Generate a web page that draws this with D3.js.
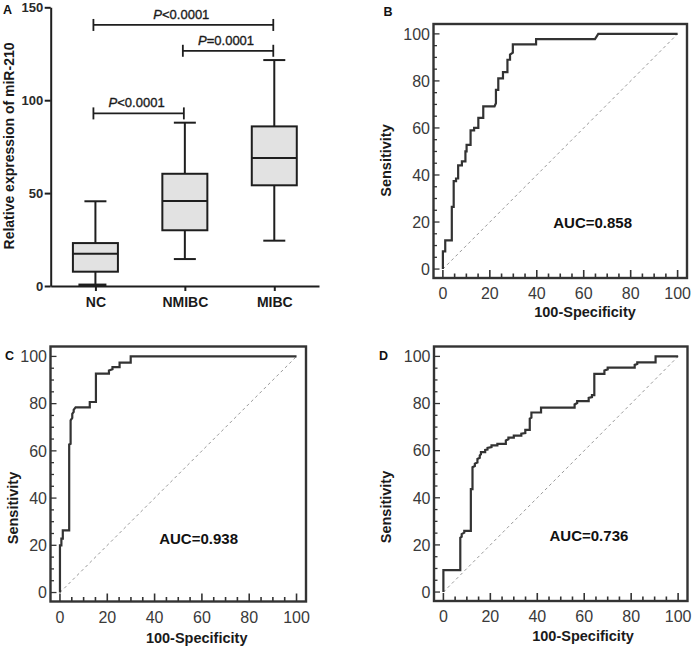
<!DOCTYPE html>
<html>
<head>
<meta charset="utf-8">
<script src="https://cdn.jsdelivr.net/npm/d3@7"></script>
<style>
  html, body { margin: 0; padding: 0; background: #fff; }
  svg { display: block; font-family: "Liberation Sans", Arial, Helvetica, sans-serif; }
</style>
</head>
<body>
<svg id="chart" width="694" height="647"></svg>
<script>
// ---------- Panel A data ----------
const groups = ["NC", "NMIBC", "MIBC"];
const whiskerLow  = [0.5, 14.5, 24.4];
const q1          = [7.7, 30.0, 54.2];
const median      = [17.4, 45.7, 68.9];
const q3          = [23.1, 60.4, 85.9];
const whiskerHigh = [45.6, 87.9, 121.6];
const yTicksA = [0, 50, 100, 150];
const sigFrom  = ["NC", "NMIBC", "NC"];
const sigTo    = ["MIBC", "MIBC", "NMIBC"];
const sigLevel = [140.5, 126.6, 92.9];
const sigText  = ["<0.0001", "=0.0001", "<0.0001"];

// ---------- ROC data (100-Specificity, Sensitivity) ----------
const rocB = [[0,0],[0,7.5],[1,7.5],[1,12.2],[3.8,12.2],[3.8,26.4],[4.6,26.4],[4.6,37.4],[5.6,37.4],[5.6,38.5],[6.5,38.5],[6.5,44.1],[8.1,44.1],[8.1,45.8],[9.6,45.8],[9.6,50],[10.1,50],[10.1,52.8],[11.8,52.8],[11.8,59],[13.3,59],[13.3,60],[15.1,60],[15.1,64.3],[17.2,64.3],[17.2,69.2],[22,69.2],[22.6,70.5],[22.6,76.2],[23.6,76.2],[23.6,81.1],[25.6,81.1],[25.6,83.7],[27.5,83.7],[27.5,89],[28.6,89],[28.6,91.2],[29.8,92],[29.8,95.5],[39.7,95.5],[39.7,97.8],[64.8,97.8],[66.2,100],[100,100]];
const rocC = [[0,0],[0,20],[0.6,20],[0.6,22.8],[1.2,22.8],[1.2,26.3],[3.9,26.3],[3.9,62.7],[4.5,63],[4.5,72.9],[5.2,74],[5.2,75.7],[5.8,76.5],[5.8,77.4],[6.6,78.4],[12.6,78.4],[12.6,80.7],[15.2,80.7],[15.2,92.7],[20.7,92.7],[20.7,94],[22.2,94.6],[22.2,95.5],[25.2,95.5],[25.2,97.4],[29.9,97.4],[29.9,100],[100,100]];
const rocD = [[0,0],[0,9.3],[7.2,9.3],[7.2,23],[7.8,23.5],[7.8,24.6],[8.9,25.2],[8.9,26],[11.7,26],[11.7,43.7],[12.4,43.7],[12.4,53],[13.4,53.5],[13.4,54.5],[14.5,55],[14.5,56.5],[15.5,57],[15.5,58],[16,58.5],[16,59.4],[17.8,59.4],[17.8,60.3],[18.8,60.5],[18.8,61.2],[20.5,61.5],[20.5,62.2],[23,62.2],[23,62.9],[26.6,62.9],[26.6,64.3],[27.7,64.8],[27.7,65.5],[30,65.5],[30,66.4],[33.2,66.4],[33.2,67.2],[34.9,67.5],[34.9,68.8],[36.8,68.8],[36.8,73.6],[37.5,74],[37.5,76.2],[41.6,76.2],[41.6,78.3],[55.9,78.3],[55.9,79.6],[57,80.2],[57,81],[61.9,81],[61.9,82.4],[63.3,82.7],[63.3,83.6],[64.3,83.6],[64.3,92.6],[68.6,92.6],[68.6,94],[70,94.5],[70,95.2],[81.5,95.2],[81.5,96.4],[82.6,96.8],[82.6,97.5],[90.4,97.5],[90.4,100],[100,100]];
const aucLabels = ["AUC=0.858", "AUC=0.938", "AUC=0.736"];
const aucPos = [[63.8, 17.4], [58.6, 20.7], [62, 21.5]];
const rocTicks = [0, 20, 40, 60, 80, 100];
const rocMinorTicks = d3.range(0, 101, 5);
const panelLetters = ["A", "B", "C", "D"];

const svg = d3.select("#chart");
const ink = "#1e1e1e";

// ================= Panel A =================
(function () {
  const g = svg.append("g");
  const y = d3.scaleLinear().domain([0, 150]).range([286, 7.3]);
  const x = d3.scalePoint().domain(groups).range([50.7, 319]).padding(0.5);
  const boxW = 45, capW = 22;

  const yAxis = g.append("g").attr("transform", "translate(50.7,0)")
    .call(d3.axisLeft(y).tickValues(yTicksA).tickSize(6).tickPadding(1.5).tickSizeOuter(0));
  yAxis.select(".domain").attr("stroke", ink).attr("stroke-width", 2);
  yAxis.selectAll(".tick line").attr("stroke", ink).attr("stroke-width", 2);
  yAxis.selectAll(".tick text").attr("font-size", 13).attr("font-weight", "bold")
    .attr("fill", "#2a2a2a").attr("font-family", "Liberation Sans, Arial, sans-serif");

  const xAxis = g.append("g").attr("transform", "translate(0,286)")
    .call(d3.axisBottom(x).tickSize(5).tickPadding(6).tickSizeOuter(0));
  xAxis.select(".domain").attr("stroke", ink).attr("stroke-width", 2);
  xAxis.selectAll(".tick line").attr("stroke", ink).attr("stroke-width", 2);
  xAxis.selectAll(".tick text").attr("font-size", 14).attr("font-weight", "bold")
    .attr("fill", "#1a1a1a").attr("font-family", "Liberation Sans, Arial, sans-serif");

  const idx = d3.range(groups.length);
  const bx = g.append("g");
  idx.forEach(i => {
    const cx = x(groups[i]);
    bx.append("line").attr("x1", cx).attr("x2", cx).attr("y1", y(whiskerHigh[i])).attr("y2", y(q3[i]))
      .attr("stroke", ink).attr("stroke-width", 2);
    bx.append("line").attr("x1", cx).attr("x2", cx).attr("y1", y(q1[i])).attr("y2", y(whiskerLow[i]))
      .attr("stroke", ink).attr("stroke-width", 2);
    bx.append("line").attr("x1", cx - capW / 2).attr("x2", cx + capW / 2).attr("y1", y(whiskerHigh[i])).attr("y2", y(whiskerHigh[i]))
      .attr("stroke", ink).attr("stroke-width", 2);
    bx.append("line").attr("x1", cx - capW / 2 - (i === 0 ? 6 : 0)).attr("x2", cx + capW / 2).attr("y1", y(whiskerLow[i])).attr("y2", y(whiskerLow[i]))
      .attr("stroke", ink).attr("stroke-width", i === 0 ? 3 : 2);
    bx.append("rect").attr("x", cx - boxW / 2).attr("width", boxW)
      .attr("y", y(q3[i])).attr("height", y(q1[i]) - y(q3[i]))
      .attr("fill", "#e2e2e2").attr("stroke", ink).attr("stroke-width", 2);
    bx.append("line").attr("x1", cx - boxW / 2).attr("x2", cx + boxW / 2).attr("y1", y(median[i])).attr("y2", y(median[i]))
      .attr("stroke", ink).attr("stroke-width", 2);
  });

  sigLevel.forEach((lv, i) => {
    const x1 = x(sigFrom[i]) - 2, x2 = x(sigTo[i]) - 1, yy = y(lv);
    g.append("line").attr("x1", x1).attr("x2", x2).attr("y1", yy).attr("y2", yy).attr("stroke", ink).attr("stroke-width", 1.8);
    [x1, x2].forEach(xx => g.append("line").attr("x1", xx).attr("x2", xx).attr("y1", yy - 6).attr("y2", yy + 6)
      .attr("stroke", ink).attr("stroke-width", 1.8));
    const t = g.append("text").attr("x", (x1 + x2) / 2 - 2).attr("y", yy - 6)
      .attr("text-anchor", "middle").attr("font-size", 13).attr("fill", "#1a1a1a")
      .attr("stroke", "#1a1a1a").attr("stroke-width", 0.35);
    t.append("tspan").attr("font-style", "italic").text("P");
    t.append("tspan").text(sigText[i]);
  });

  g.append("text").attr("transform", "translate(14,146) rotate(-90)")
    .attr("text-anchor", "middle").attr("font-size", 14).attr("font-weight", "bold").attr("fill", "#1a1a1a")
    .text("Relative expression of miR-210");
})();

// ================= ROC panels =================
const rocPanels = [
  { data: rocB, left: 433.5, top: 24, right: 687, bottom: 278, ytX: 391, ytY: 160.5, xtX: 585, xtY: 317 },
  { data: rocC, left: 50.5, top: 346.5, right: 306, bottom: 601.5, ytX: 18, ytY: 508, xtX: 196.7, xtY: 642.5 },
  { data: rocD, left: 434, top: 346.5, right: 687.5, bottom: 601, ytX: 391, ytY: 507, xtX: 583, xtY: 640.5 }
];

rocPanels.forEach((p, k) => {
  const g = svg.append("g");
  const x = d3.scaleLinear().domain([-4, 104]).range([p.left, p.right]);
  const y = d3.scaleLinear().domain([-3.8, 104.2]).range([p.bottom, p.top]);
  const frameCol = "#333";

  rocMinorTicks.forEach(v => {
    const major = rocTicks.includes(v);
    g.append("line").attr("x1", x(v)).attr("x2", x(v)).attr("y1", p.bottom).attr("y2", p.bottom - (major ? 8 : 4.5))
      .attr("stroke", frameCol).attr("stroke-width", 1.6);
    g.append("line").attr("y1", y(v)).attr("y2", y(v)).attr("x1", p.left).attr("x2", p.left + (major ? 6 : 3.5))
      .attr("stroke", frameCol).attr("stroke-width", 1.3);
  });

  rocTicks.forEach(v => {
    g.append("text").attr("x", x(v)).attr("y", p.bottom + 21).attr("text-anchor", "middle")
      .attr("font-size", 16).attr("fill", "#3a3a3a").text(v);
    g.append("text").attr("x", p.left - 3.5).attr("y", y(v)).attr("dy", "0.36em").attr("text-anchor", "end")
      .attr("font-size", 16).attr("fill", "#3a3a3a").text(v);
  });

  g.append("line").attr("x1", x(0)).attr("y1", y(0)).attr("x2", x(100)).attr("y2", y(100))
    .attr("stroke", "#999").attr("stroke-width", 1).attr("stroke-dasharray", "3,3");

  const line = d3.line().x(d => x(d[0])).y(d => y(d[1]));
  g.append("path").datum(p.data).attr("d", line).attr("fill", "none")
    .attr("stroke", "#333").attr("stroke-width", 2.2).attr("stroke-linejoin", "miter");

  g.append("rect").attr("x", p.left).attr("y", p.top).attr("width", p.right - p.left).attr("height", p.bottom - p.top)
    .attr("fill", "none").attr("stroke", frameCol).attr("stroke-width", 2.4);

  g.append("text").attr("x", x(aucPos[k][0])).attr("y", y(aucPos[k][1])).attr("text-anchor", "middle")
    .attr("font-size", 15).attr("font-weight", "bold").attr("fill", "#111").text(aucLabels[k]);

  g.append("text").attr("transform", `translate(${p.ytX},${p.ytY}) rotate(-90)`).attr("text-anchor", "middle")
    .attr("font-size", 14.5).attr("font-weight", "bold").attr("fill", "#1a1a1a").text("Sensitivity");
  g.append("text").attr("x", p.xtX).attr("y", p.xtY).attr("text-anchor", "middle")
    .attr("font-size", 14.5).attr("font-weight", "bold").attr("fill", "#1a1a1a").text("100-Specificity");
});

const letterPos = [[3, 13.5], [383.5, 15.5], [5, 360], [379, 360]];
panelLetters.forEach((l, i) => {
  svg.append("text").attr("x", letterPos[i][0]).attr("y", letterPos[i][1])
    .attr("font-size", 12.5).attr("font-weight", "bold").attr("fill", "#111").text(l);
});
</script>
</body>
</html>
